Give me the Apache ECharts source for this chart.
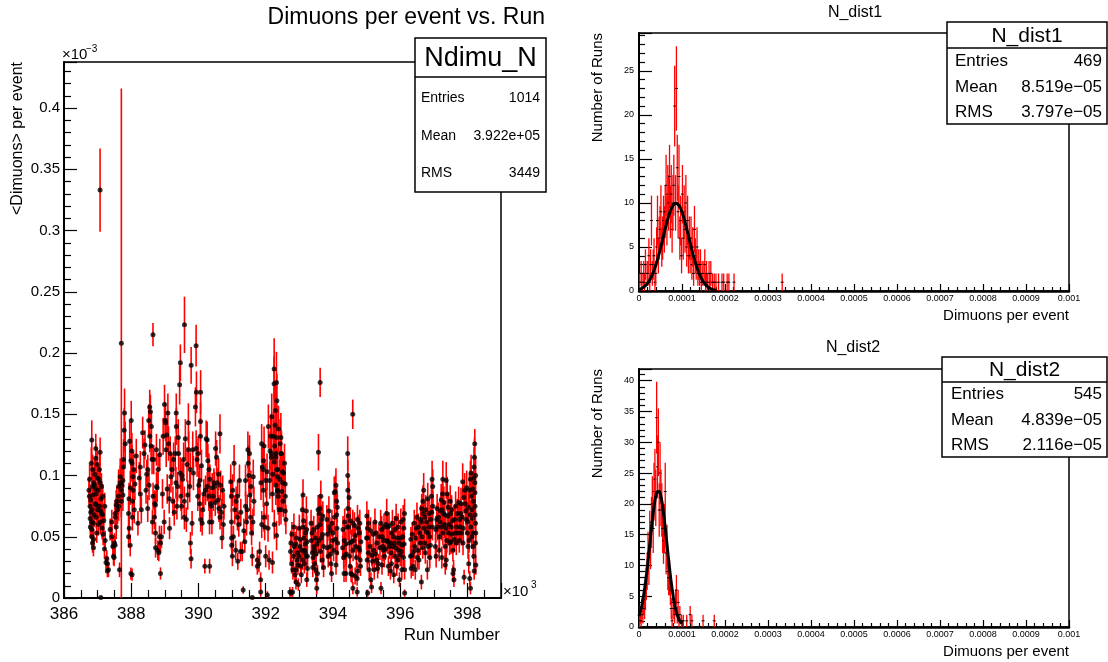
<!DOCTYPE html>
<html>
<head>
<meta charset="utf-8">
<script src="https://cdn.jsdelivr.net/npm/echarts/dist/echarts.min.js"></script>
<style>
  html, body { margin: 0; padding: 0; background: #ffffff; }
  #chart { width: 1108px; height: 662px; }
</style>
</head>
<body>
<div id="chart"></div>
<script>
// Dimuons per event for each run: [run number, rate (x1e-3), error (x1e-3)]
const period1 = [
  [386756,0.083,0.010],[386776,0.075,0.010],[386796,0.070,0.009],[386826,0.129,0.016],[386846,0.091,0.012],
  [386824,0.062,0.010],[386828,0.056,0.009],[386830,0.050,0.008],[386848,0.045,0.008],[386876,0.041,0.007],
  [386878,0.094,0.012],[386945,0.122,0.012],[386947,0.114,0.012],[386955,0.085,0.010],[386957,0.066,0.009],
  [386995,0.098,0.012],[387055,0.105,0.013],[387075,0.119,0.012],[387077,0.094,0.012],[387105,0.081,0.011],
  [387079,0.062,0.010],[387134,0.057,0.009],[387154,0.083,0.010],[387224,0.047,0.008],[387057,0.075,0.010],
  [386925,0.077,0.010],[386874,0.061,0.009],[387095,0.0005,0.001],[387073,0.333,0.034],[386798,0.080,0.010],
  [386856,0.105,0.012],[387005,0.072,0.010],[386905,0.092,0.012],[386778,0.065,0.009],[386975,0.053,0.008],
  [387124,0.069,0.010],[387274,0.032,0.007],[387294,0.028,0.006],[387323,0.023,0.006],[387423,0.062,0.010],
  [387425,0.050,0.009],[387453,0.042,0.008],[387473,0.034,0.007],[387522,0.069,0.011],[387524,0.066,0.010],
  [387552,0.076,0.012],[387572,0.079,0.012],[387592,0.072,0.012],[387622,0.083,0.014],[387624,0.091,0.014],
  [387652,0.023,0.006],[387672,0.099,0.015],[387674,0.094,0.014],[387702,0.088,0.016],[387721,0.092,0.015],
  [387751,0.096,0.016],[387771,0.107,0.017],[387773,0.113,0.017],[387791,0.137,0.018],[387801,0.151,0.020],
  [387821,0.126,0.018],[387753,0.084,0.013],[387704,0.079,0.013],[387626,0.075,0.012],[387706,0.208,0.208],
  [387554,0.058,0.010],[387502,0.045,0.008],[387373,0.056,0.009],[387520,0.043,0.008],[387490,0.033,0.007],
  [387250,0.029,0.006],[387290,0.022,0.005],
  [386742,0.088,0.011],[386762,0.097,0.012],[386784,0.058,0.009],[386812,0.110,0.013],[386836,0.072,0.010],
  [386862,0.084,0.011],[386884,0.048,0.008],[386894,0.068,0.010],[386915,0.101,0.012],[386935,0.089,0.011],
  [386965,0.076,0.010],[386985,0.109,0.013],[387015,0.088,0.011],[387025,0.060,0.009],[387038,0.097,0.012],
  [387088,0.071,0.010],[387114,0.091,0.011],[387144,0.068,0.010],[387164,0.052,0.009],[387184,0.063,0.010],
  [387204,0.040,0.008],[387214,0.075,0.011]
];
const period2 = [
  [387920,0.069,0.012],[387940,0.057,0.010],[387970,0.043,0.009],[387972,0.090,0.014],[387990,0.020,0.005],
  [388000,0.145,0.016],[388020,0.120,0.015],[388022,0.110,0.015],[388040,0.079,0.013],[388050,0.099,0.014],
  [388070,0.105,0.014],[388270,0.107,0.013],[388272,0.085,0.012],[387992,0.112,0.015],[388052,0.088,0.013],
  [388090,0.072,0.011],[387922,0.050,0.009],[388024,0.019,0.005],[388380,0.118,0.012],[388410,0.125,0.012],
  [388490,0.073,0.011],[388520,0.145,0.013],[388550,0.156,0.014],[388570,0.152,0.014],[388552,0.132,0.013],
  [388590,0.124,0.012],[388620,0.113,0.012],[388670,0.113,0.012],[388690,0.066,0.010],[388700,0.077,0.011],
  [388720,0.076,0.011],[388750,0.121,0.013],[388752,0.091,0.012],[388770,0.090,0.012],[388722,0.053,0.009],
  [388724,0.041,0.008],[388790,0.039,0.008],[388820,0.037,0.007],[388840,0.050,0.009],[388850,0.117,0.013],
  [388870,0.020,0.005],[388872,0.045,0.008],[388647,0.215,0.0095],[388440,0.088,0.011],[388492,0.105,0.012],
  [388650,0.083,0.011],[388900,0.050,0.009],[388980,0.062,0.010],[388990,0.158,0.016],[389010,0.145,0.015],
  [389020,0.143,0.015],[389040,0.121,0.014],[389060,0.133,0.014],[389090,0.151,0.016],[389110,0.126,0.014],
  [389130,0.081,0.012],[389140,0.057,0.009],[389180,0.099,0.013],[389210,0.105,0.013],[389240,0.079,0.012],
  [389260,0.113,0.014],[389310,0.118,0.014],[389330,0.094,0.013],[389340,0.151,0.016],[389342,0.140,0.015],
  [389360,0.075,0.011],[389380,0.091,0.012],[389410,0.118,0.014],[389440,0.174,0.016],[389460,0.102,0.013],
  [389480,0.083,0.012],[389500,0.075,0.011],[389510,0.100,0.013],[389560,0.113,0.014],[389580,0.079,0.012],
  [389610,0.130,0.016],[389582,0.066,0.010],[389640,0.064,0.010],[389660,0.109,0.014],[389710,0.121,0.015],
  [389740,0.091,0.013],[389760,0.105,0.014],[389762,0.045,0.009],[389780,0.032,0.008],[389810,0.061,0.010],
  [389830,0.121,0.015],[389462,0.192,0.015],[389584,0.223,0.023],[389782,0.190,0.015],
  [387935,0.081,0.013],[387955,0.128,0.016],[388035,0.066,0.011],[388110,0.093,0.013],[388150,0.116,0.014],
  [388200,0.061,0.010],[388240,0.098,0.013],[388300,0.072,0.011],[388340,0.135,0.013],[388460,0.101,0.012],
  [388530,0.092,0.012],[388600,0.140,0.013],[388630,0.062,0.010],[388800,0.105,0.013],[388930,0.085,0.012],
  [388950,0.132,0.015],[389070,0.089,0.012],[389160,0.118,0.014],[389280,0.070,0.011],[389400,0.131,0.015],
  [389530,0.097,0.013],[389680,0.084,0.012],[389700,0.143,0.016],[389850,0.102,0.014]
];
const period3 = [
  [389930,0.206,0.017],[389910,0.156,0.016],[389932,0.122,0.015],[389940,0.168,0.017],[389960,0.113,0.014],
  [389980,0.083,0.012],[390010,0.092,0.012],[390040,0.096,0.013],[390060,0.132,0.015],[390062,0.144,0.016],
  [390064,0.168,0.018],[390042,0.077,0.011],[390066,0.064,0.010],[390110,0.061,0.010],[390190,0.026,0.006],
  [390210,0.088,0.012],[390230,0.130,0.015],[390260,0.129,0.015],[390262,0.091,0.012],[390310,0.083,0.012],
  [390330,0.062,0.010],[390360,0.077,0.011],[390380,0.075,0.011],[390410,0.090,0.012],[390460,0.094,0.012],
  [390480,0.091,0.012],[390510,0.122,0.014],[390540,0.115,0.014],[390560,0.094,0.012],[390580,0.080,0.011],
  [390610,0.073,0.011],[390640,0.134,0.016],[390660,0.092,0.012],[390700,0.049,0.009],[390720,0.088,0.012],
  [390642,0.066,0.010],[390160,0.085,0.012],[390312,0.105,0.013],[390440,0.083,0.012],[390760,0.075,0.011],
  [390332,0.026,0.006],[390960,0.095,0.014],[390980,0.083,0.013],[390982,0.062,0.011],[390984,0.049,0.010],
  [390990,0.043,0.009],[391010,0.034,0.008],[391060,0.110,0.015],[391080,0.072,0.012],[391110,0.039,0.008],
  [391160,0.066,0.011],[391200,0.060,0.010],[391220,0.096,0.013],[391250,0.038,0.008],[391300,0.038,0.008],
  [391330,0.0065,0.003],[391400,0.096,0.013],[391402,0.075,0.012],[391430,0.062,0.011],[391450,0.072,0.012],
  [391470,0.121,0.015],[391480,0.110,0.015],[391500,0.100,0.014],[391530,0.084,0.013],[391550,0.066,0.011],
  [391580,0.053,0.010],[391600,0.034,0.008],[391630,0.099,0.014],[391650,0.079,0.012],[391602,0.0005,0.001],
  [391040,0.050,0.009],[391350,0.055,0.010],[391162,0.083,0.013],[391170,0.030,0.007],
  [389990,0.118,0.014],[390090,0.108,0.013],[390130,0.072,0.011],[390280,0.112,0.014],[390340,0.097,0.012],
  [390400,0.062,0.010],[390500,0.078,0.011],[390600,0.101,0.013],[390680,0.070,0.011],[390740,0.060,0.010],
  [391020,0.088,0.013],[391120,0.079,0.012],[391260,0.070,0.011],[391380,0.046,0.009],[391520,0.118,0.015],
  [391560,0.091,0.013],[391620,0.062,0.011]
];
const period4 = [
  [391750,0.031,0.008],[391800,0.028,0.007],[391820,0.038,0.008],[391850,0.015,0.006],[391852,0.005,0.004],
  [391880,0.126,0.016],[391900,0.107,0.016],[391920,0.105,0.015],[391930,0.088,0.014],[391950,0.066,0.012],
  [391882,0.060,0.011],[391970,0.058,0.011],[392000,0.034,0.009],[392030,0.077,0.013],[392050,0.0025,0.003],
  [392070,0.057,0.011],[392100,0.031,0.008],[392150,0.132,0.018],[392170,0.115,0.018],[392200,0.085,0.015],
  [392230,0.132,0.020],[392250,0.175,0.022],[392270,0.124,0.020],[392300,0.115,0.020],[392330,0.105,0.018],
  [392350,0.099,0.018],[392370,0.083,0.015],[392400,0.072,0.013],[392430,0.126,0.020],[392450,0.118,0.020],
  [392302,0.092,0.016],[392352,0.088,0.015],[392130,0.120,0.016],[391952,0.124,0.016],[392002,0.096,0.014],
  [392252,0.187,0.025],[392320,0.176,0.025],[392290,0.153,0.020],[392332,0.161,0.022],[392322,0.131,0.020],
  [392452,0.131,0.020],[392172,0.118,0.018],[392304,0.118,0.018],[392470,0.118,0.018],[392254,0.111,0.018],
  [392354,0.105,0.016],[392500,0.103,0.016],[392356,0.087,0.014],[392502,0.094,0.015],[392580,0.093,0.015],
  [392454,0.072,0.012],[392582,0.071,0.012],[392256,0.060,0.012],[392324,0.051,0.012],[392202,0.029,0.009],
  [392584,0.083,0.013],[392530,0.102,0.016],[391752,0.026,0.007],
  [391860,0.094,0.014],[391940,0.112,0.015],[392040,0.103,0.015],[392080,0.140,0.018],[392120,0.096,0.015],
  [392180,0.148,0.019],[392210,0.101,0.016],[392280,0.141,0.020],[392380,0.138,0.019],[392420,0.097,0.016],
  [392480,0.087,0.014],[392520,0.079,0.013],[392560,0.110,0.016],[392600,0.064,0.012]
];
const period5 = [
  [392750,0.045,0.010],[392770,0.028,0.008],[392800,0.005,0.004],[392850,0.042,0.010],[392870,0.019,0.007],
  [392900,0.013,0.006],[392930,0.031,0.008],[392950,0.037,0.009],[392970,0.011,0.005],[392990,0.034,0.009],
  [393020,0.042,0.010],[393040,0.026,0.008],[393090,0.072,0.012],[393110,0.084,0.013],[393112,0.058,0.011],
  [393140,0.049,0.010],[393160,0.039,0.009],[393190,0.053,0.010],[393210,0.071,0.012],[393220,0.056,0.011],
  [393222,0.015,0.006],[393240,0.034,0.009],[393242,0.024,0.008],[393170,0.037,0.009],[393060,0.019,0.007],
  [392830,0.034,0.009],[392902,0.023,0.008],[392720,0.005,0.004],[392760,0.004,0.003],[393360,0.047,0.010],
  [393390,0.037,0.009],[393410,0.033,0.009],[393440,0.042,0.010],[393490,0.023,0.008],[393510,0.015,0.006],
  [393520,0.008,0.005],[393540,0.058,0.011],[393560,0.072,0.012],[393570,0.119,0.015],[393590,0.069,0.012],
  [393620,0.176,0.012],[393622,0.060,0.011],[393640,0.083,0.013],[393660,0.064,0.012],[393690,0.052,0.010],
  [393720,0.042,0.010],[393722,0.025,0.008],[393460,0.028,0.008],[393542,0.020,0.007],[393820,0.064,0.012],
  [393840,0.052,0.010],[393890,0.058,0.011],[393920,0.042,0.010],[393940,0.028,0.008],[393960,0.020,0.007],
  [393990,0.047,0.010],[394040,0.086,0.013],[394070,0.087,0.013],[394090,0.092,0.014],[394110,0.079,0.012],
  [394112,0.068,0.012],[394120,0.057,0.011],[394140,0.045,0.010],[394114,0.037,0.009],[394092,0.027,0.008],
  [394020,0.039,0.009],[394290,0.041,0.010],[394320,0.033,0.009],[394340,0.047,0.010],[394360,0.035,0.009],
  [394440,0.118,0.014],[394442,0.100,0.013],[394444,0.088,0.013],[394446,0.073,0.012],[394460,0.067,0.012],
  [394470,0.058,0.011],[394490,0.045,0.010],[394510,0.026,0.008],[394540,0.020,0.007],[394570,0.019,0.007],
  [394590,0.150,0.012],[394592,0.061,0.011],[394594,0.008,0.005],[394620,0.047,0.010],[394660,0.018,0.007],
  [394690,0.042,0.010],[394720,0.016,0.006],[394740,0.022,0.007],[394760,0.057,0.011],[394790,0.053,0.010],
  [394792,0.039,0.009],[394810,0.031,0.008],[394820,0.026,0.008],[394722,0.005,0.004],[394420,0.058,0.011],
  [394390,0.020,0.007],
  [392740,0.038,0.009],[392780,0.052,0.010],[392810,0.023,0.008],[392840,0.058,0.011],[392880,0.044,0.010],
  [392920,0.049,0.010],[392960,0.027,0.008],[393000,0.057,0.011],[393030,0.048,0.010],[393070,0.039,0.009],
  [393100,0.031,0.008],[393130,0.063,0.011],[393150,0.028,0.008],[393180,0.044,0.010],[393200,0.034,0.009],
  [393230,0.046,0.010],[393350,0.061,0.011],[393380,0.053,0.010],[393400,0.025,0.008],[393430,0.056,0.011],
  [393450,0.039,0.009],[393480,0.049,0.010],[393500,0.036,0.009],[393530,0.044,0.010],[393580,0.047,0.010],
  [393610,0.073,0.012],[393630,0.038,0.009],[393650,0.049,0.010],[393680,0.031,0.008],[393700,0.067,0.012],
  [393830,0.041,0.009],[393860,0.034,0.009],[393880,0.071,0.012],[393910,0.055,0.011],[393930,0.036,0.009],
  [393970,0.061,0.011],[394000,0.053,0.010],[394050,0.066,0.012],[394080,0.048,0.010],[394130,0.074,0.012],
  [394300,0.056,0.011],[394330,0.020,0.007],[394350,0.062,0.011],[394380,0.044,0.010],[394400,0.036,0.009],
  [394480,0.082,0.013],[394500,0.034,0.009],[394520,0.063,0.011],[394550,0.046,0.010],[394600,0.039,0.009],
  [394640,0.059,0.011],[394670,0.051,0.010],[394700,0.033,0.009],[394730,0.064,0.012],[394770,0.041,0.009],
  [394800,0.061,0.011],[394830,0.046,0.010]
];
const period6 = [
  [395010,0.067,0.012],[395030,0.057,0.011],[395032,0.049,0.010],[395034,0.004,0.003],[395050,0.037,0.009],
  [395080,0.023,0.008],[395130,0.015,0.006],[395150,0.009,0.005],[395180,0.030,0.008],[395210,0.039,0.009],
  [395230,0.023,0.008],[395280,0.053,0.010],[395310,0.045,0.010],[395330,0.024,0.008],[395350,0.028,0.008],
  [395430,0.008,0.005],[395450,0.056,0.011],[395470,0.050,0.010],[395480,0.042,0.010],[395500,0.039,0.009],
  [395530,0.034,0.009],[395510,0.047,0.010],[395580,0.060,0.011],[395610,0.047,0.010],[395630,0.058,0.011],
  [395650,0.026,0.008],[395680,0.042,0.010],[395710,0.022,0.007],[395730,0.037,0.009],[395750,0.053,0.010],
  [395780,0.042,0.010],[395810,0.019,0.007],[395850,0.034,0.009],[395880,0.065,0.012],[395910,0.049,0.010],
  [395930,0.031,0.008],[395950,0.039,0.009],[395980,0.015,0.006],[396010,0.049,0.010],[396030,0.038,0.009],
  [396050,0.023,0.008],[396080,0.050,0.010],[396110,0.057,0.011],[396130,0.069,0.012],[396132,0.023,0.008],
  [396134,0.004,0.003],[396100,0.033,0.009],[395830,0.045,0.010],
  [395000,0.049,0.010],[395020,0.031,0.008],[395060,0.061,0.011],[395100,0.042,0.010],[395120,0.055,0.011],
  [395160,0.035,0.009],[395200,0.052,0.010],[395250,0.062,0.011],[395260,0.036,0.009],[395300,0.031,0.008],
  [395370,0.050,0.010],[395400,0.041,0.010],[395420,0.061,0.011],[395460,0.027,0.008],[395520,0.058,0.011],
  [395560,0.040,0.009],[395600,0.069,0.012],[395640,0.046,0.010],[395670,0.059,0.011],[395700,0.045,0.010],
  [395740,0.028,0.008],[395770,0.061,0.011],[395800,0.050,0.010],[395840,0.056,0.011],[395870,0.041,0.009],
  [395900,0.026,0.008],[395940,0.058,0.011],[395970,0.045,0.010],[396000,0.035,0.009],[396020,0.062,0.011],
  [396060,0.043,0.010],[396090,0.064,0.012],[396120,0.044,0.010]
];
const period7 = [
  [396310,0.034,0.009],[396330,0.024,0.008],[396350,0.035,0.009],[396380,0.026,0.008],[396430,0.042,0.010],
  [396450,0.023,0.008],[396480,0.057,0.011],[396510,0.033,0.009],[396530,0.039,0.009],[396580,0.053,0.010],
  [396610,0.064,0.012],[396630,0.062,0.012],[396632,0.013,0.006],[396650,0.050,0.010],[396680,0.079,0.013],
  [396682,0.069,0.012],[396710,0.057,0.011],[396730,0.045,0.010],[396750,0.037,0.009],[396780,0.054,0.011],
  [396810,0.023,0.008],[396830,0.053,0.010],[396832,0.042,0.010],[396850,0.058,0.011],[396880,0.050,0.010],
  [396910,0.064,0.012],[396930,0.083,0.013],[396950,0.097,0.015],[396970,0.091,0.014],[396972,0.075,0.012],
  [396882,0.033,0.009],[397050,0.042,0.010],[397070,0.034,0.009],[397090,0.064,0.012],[397120,0.058,0.011],
  [397170,0.050,0.010],[397220,0.080,0.013],[397250,0.072,0.012],[397270,0.097,0.015],[397272,0.053,0.010],
  [397290,0.069,0.012],[397320,0.060,0.011],[397340,0.042,0.010],[397370,0.096,0.015],[397372,0.031,0.008],
  [397390,0.047,0.010],[397420,0.067,0.012],[397440,0.053,0.010],[397470,0.045,0.010],[397500,0.069,0.012],
  [397520,0.058,0.011],[397540,0.052,0.010],[397570,0.039,0.009],[397590,0.023,0.008],[397600,0.015,0.006],
  [397620,0.064,0.012],[397640,0.053,0.010],[397670,0.045,0.010],[397700,0.069,0.012],[397240,0.033,0.009],
  [397342,0.027,0.008],[397572,0.020,0.007],[397770,0.064,0.012],[397800,0.069,0.012],[397820,0.053,0.010],
  [397870,0.045,0.010],[397900,0.082,0.013],[397920,0.088,0.014],[397940,0.077,0.013],[397970,0.064,0.012],
  [398000,0.053,0.010],[398020,0.042,0.010],[398040,0.028,0.008],[398070,0.016,0.006],[398090,0.097,0.015],
  [398092,0.008,0.005],[398100,0.058,0.011],[398120,0.083,0.013],[398140,0.072,0.012],[398150,0.065,0.012],
  [398170,0.053,0.010],[398190,0.098,0.015],[398192,0.034,0.009],[398200,0.107,0.016],[398202,0.022,0.007],
  [398220,0.126,0.012],[398222,0.094,0.015],[398224,0.086,0.014],[398226,0.075,0.013],[398240,0.061,0.012],
  [398242,0.045,0.010],[398250,0.027,0.008],[398172,0.042,0.010],[397902,0.017,0.006],
  [396320,0.048,0.010],[396360,0.052,0.010],[396400,0.038,0.009],[396420,0.061,0.011],[396460,0.049,0.010],
  [396500,0.066,0.012],[396540,0.058,0.011],[396560,0.031,0.008],[396600,0.045,0.010],[396640,0.073,0.012],
  [396670,0.041,0.009],[396700,0.088,0.014],[396740,0.066,0.012],[396760,0.072,0.012],[396790,0.062,0.011],
  [396820,0.081,0.013],[396860,0.069,0.012],[396900,0.043,0.010],[396940,0.070,0.012],[396960,0.058,0.011],
  [397060,0.056,0.011],[397100,0.073,0.012],[397140,0.066,0.012],[397160,0.039,0.009],[397190,0.062,0.011],
  [397200,0.071,0.012],[397230,0.058,0.011],[397260,0.085,0.013],[397300,0.078,0.013],[397330,0.068,0.012],
  [397360,0.057,0.011],[397400,0.085,0.014],[397430,0.074,0.012],[397460,0.060,0.011],[397490,0.079,0.013],
  [397510,0.046,0.010],[397530,0.072,0.012],[397560,0.063,0.011],[397610,0.048,0.010],[397650,0.075,0.012],
  [397680,0.058,0.011],[397720,0.053,0.010],[397740,0.078,0.013],[397760,0.047,0.010],[397790,0.058,0.011],
  [397810,0.077,0.013],[397840,0.066,0.012],[397860,0.095,0.015],[397880,0.057,0.011],[397960,0.071,0.012],
  [397980,0.090,0.014],[398010,0.062,0.011],[398030,0.074,0.012],[398050,0.047,0.010],[398060,0.088,0.014],
  [398080,0.068,0.012],[398110,0.102,0.015],[398130,0.050,0.010],[398160,0.089,0.014],[398180,0.079,0.013],
  [398210,0.115,0.016],[398230,0.068,0.012],[398244,0.100,0.015],[398248,0.053,0.010]
];

// Run counts per bin of dimuons per event (bin width 2e-6, starting at 0)
const BIN_WIDTH = 2e-6;
const dist1Counts = [
  1,0,2,1,0,2,1,3,0,2,  2,4,1,3,8,2,3,4,1,2,  5,8,4,6,7,9,5,6,8,7,
  9,12,8,11,10,13,9,11,7,10,  12,21,10,23,14,9,13,6,8,4,  11,6,9,7,10,5,8,4,6,4,
  6,3,5,2,7,4,3,5,2,3,  2,3,1,2,0,2,3,1,2,1,0,2,1,2,0,
  1,0,1,0,1,0,0,1,0,0,0,1,0,1,0,0,0,1,0,1,0,0,0,0,0,1,0,0,0,0,0
];
const dist1Isolated = [[166, 1]];   // [bin index, count]
const dist2Counts = [
  1,2,1,3,2,4,3,5,7,9,  12,10,15,13,17,20,16,22,24,21,  34,26,30,19,25,21,19,16,14,16,
  22,12,13,9,8,8,6,3,1,4,  3,2,4,6,2,4,1,2,0,1,  0,1,0,0,0,1,0,0,0,2,
  0,1,0,0,0,0,0,0,0,0,  0,0,0,0,1,0,0,0,0,0,  0,0,0,0,0,0,0,1
];
const dist2Isolated = [];

// Gaussian fits: [constant, mean, sigma, range low, range high]
const fit1 = [10.0, 8.6e-5, 3.0e-5, 0, 1.8e-4];
const fit2 = [22.2, 4.5e-5, 2.0e-5, 0, 1.0e-4];

// Statistics box texts
const statsRun = { name: 'Ndimu_N', rows: [['Entries', '1014'], ['Mean', '3.922e+05'], ['RMS', '3449']] };
const stats1 = { name: 'N_dist1', rows: [['Entries', '469'], ['Mean', '8.519e\u221205'], ['RMS', '3.797e\u221205']] };
const stats2 = { name: 'N_dist2', rows: [['Entries', '545'], ['Mean', '4.839e\u221205'], ['RMS', '2.116e\u221205']] };

const FONT = '"Liberation Sans", Arial, Helvetica, sans-serif';

const runRows = [].concat(period1, period2, period3, period4, period5, period6, period7);
const pointData = runRows.map(r => [r[0] / 1000, r[1], r[2]]);

function histData(counts, isolated) {
  const out = [];
  counts.forEach((c, i) => { if (c > 0) out.push([(i + 0.5) * BIN_WIDTH, c]); });
  isolated.forEach(([i, c]) => out.push([(i + 0.5) * BIN_WIDTH, c]));
  return out;
}

function fitCurve(p) {
  const [a, mu, sigma, lo, hi] = p;
  const n = 200, pts = [];
  for (let k = 0; k <= n; k++) {
    const x = lo + (hi - lo) * k / n;
    pts.push([x, a * Math.exp(-0.5 * Math.pow((x - mu) / sigma, 2))]);
  }
  return pts;
}

function histSeries(counts, isolated, idx) {
  return {
    type: 'custom', xAxisIndex: idx, yAxisIndex: idx, clip: true, silent: true,
    data: histData(counts, isolated), encode: { x: 0, y: 1 },
    renderItem(params, api) {
      const x = api.value(0), c = api.value(1), e = Math.sqrt(c);
      const top = api.coord([x, c + e]), bot = api.coord([x, Math.max(c - e, 0)]), mid = api.coord([x, c]);
      return { type: 'group', children: [
        { type: 'line', shape: { x1: top[0], y1: top[1], x2: bot[0], y2: bot[1] },
          style: { stroke: '#ff0000', lineWidth: 1.3 } },
        { type: 'line', shape: { x1: mid[0] - 1.5, y1: mid[1], x2: mid[0] + 1.5, y2: mid[1] },
          style: { stroke: '#000000', lineWidth: 1 } }
      ] };
    }
  };
}

function text(x, y, str, size, align, extra) {
  return Object.assign({
    type: 'text', x: x, y: y, z: 100,
    style: { text: str, fontSize: size, fontFamily: FONT, fill: '#000',
             textAlign: align || 'left', textVerticalAlign: 'middle' }
  }, extra || {});
}

function statsBox(s, x, y, w, h, headerH, headerSize, rowYs, rowSize, padL, padR) {
  const els = [
    { type: 'rect', z: 99, shape: { x: x, y: y, width: w, height: h },
      style: { fill: '#ffffff', stroke: '#000000', lineWidth: 1.5 } },
    { type: 'line', z: 100, shape: { x1: x, y1: y + headerH, x2: x + w, y2: y + headerH },
      style: { stroke: '#000000', lineWidth: 1.5 } },
    text(x + w / 2, y + headerH / 2 + 1, s.name, headerSize, 'center')
  ];
  s.rows.forEach((r, i) => {
    els.push(text(x + padL, rowYs[i], r[0], rowSize, 'left'));
    els.push(text(x + w - padR, rowYs[i], r[1], rowSize, 'right'));
  });
  return els;
}

const blackLine = { color: '#000', width: 2 };
const tickStyle = { color: '#000', width: 1.2 };

function rightXAxis(idx) {
  return {
    gridIndex: idx, type: 'value', min: 0, max: 0.001, interval: 0.0001,
    axisLine: { lineStyle: { color: '#000', width: 2.5 } },
    axisTick: { inside: true, length: 7, lineStyle: tickStyle },
    minorTick: { show: true, splitNumber: 5, length: 4, lineStyle: tickStyle },
    axisLabel: { color: '#000', fontSize: 9, fontFamily: FONT, margin: 3,
                 formatter: v => v === 0 ? '0' : String(Number(v.toFixed(4))) },
    splitLine: { show: false }, minorSplitLine: { show: false }
  };
}
function rightYAxis(idx, max) {
  return {
    gridIndex: idx, type: 'value', min: 0, max: max, interval: 5,
    axisLine: { lineStyle: blackLine },
    axisTick: { inside: true, length: 13, lineStyle: tickStyle },
    minorTick: { show: true, splitNumber: 5, length: 6, lineStyle: tickStyle },
    axisLabel: { color: '#000', fontSize: 9, fontFamily: FONT, margin: 5, showMaxLabel: false },
    splitLine: { show: false }
  };
}

const gridBase = { show: true, borderColor: '#000', borderWidth: 1.5, backgroundColor: 'transparent',
                   containLabel: false, outerBoundsMode: 'none' };

const option = {
  animation: false,
  backgroundColor: '#ffffff',
  grid: [
    Object.assign({ left: 64, top: 62, width: 437, height: 536 }, gridBase),
    Object.assign({ left: 639, top: 33, width: 430, height: 258 }, gridBase),
    Object.assign({ left: 639, top: 369, width: 430, height: 258 }, gridBase)
  ],
  xAxis: [
    {
      gridIndex: 0, type: 'value', min: 386, max: 399, interval: 2,
      axisLine: { lineStyle: blackLine },
      axisTick: { inside: true, length: 15, lineStyle: tickStyle },
      minorTick: { show: true, splitNumber: 4, length: 8, lineStyle: tickStyle },
      axisLabel: { color: '#000', fontSize: 17, fontFamily: FONT, margin: 8, showMaxLabel: false },
      splitLine: { show: false }
    },
    rightXAxis(1),
    rightXAxis(2)
  ],
  yAxis: [
    {
      gridIndex: 0, type: 'value', min: 0, max: 0.4376, interval: 0.05,
      axisLine: { lineStyle: blackLine },
      axisTick: { inside: true, length: 13, lineStyle: tickStyle },
      minorTick: { show: true, splitNumber: 5, length: 7, lineStyle: tickStyle },
      axisLabel: { color: '#000', fontSize: 15, fontFamily: FONT, margin: 4, showMaxLabel: false,
                   formatter: v => v === 0 ? '0' : String(Number(v.toFixed(3))) },
      splitLine: { show: false }
    },
    rightYAxis(1, 29.3),
    rightYAxis(2, 41.9)
  ],
  series: [
    {
      type: 'custom', xAxisIndex: 0, yAxisIndex: 0, clip: true, silent: true,
      data: pointData, encode: { x: 0, y: 1 },
      renderItem(params, api) {
        const x = api.value(0), y = api.value(1), e = api.value(2);
        const a = api.coord([x, y + e]), b = api.coord([x, Math.max(y - e, 0)]);
        return { type: 'line', shape: { x1: a[0], y1: a[1], x2: b[0], y2: b[1] },
                 style: { stroke: '#ff0000', lineWidth: 1.6 } };
      }
    },
    {
      type: 'scatter', xAxisIndex: 0, yAxisIndex: 0, silent: true,
      data: pointData.map(p => [p[0], p[1]]),
      symbol: 'circle', symbolSize: 5, itemStyle: { color: '#000000' }
    },
    histSeries(dist1Counts, dist1Isolated, 1),
    histSeries(dist2Counts, dist2Isolated, 2),
    {
      type: 'line', xAxisIndex: 1, yAxisIndex: 1, data: fitCurve(fit1), showSymbol: false, silent: true,
      lineStyle: { color: '#000', width: 3 }, z: 5
    },
    {
      type: 'line', xAxisIndex: 2, yAxisIndex: 2, data: fitCurve(fit2), showSymbol: false, silent: true,
      lineStyle: { color: '#000', width: 3 }, z: 5
    }
  ],
  graphic: [].concat(
    [
      // left panel texts
      text(545, 18, 'Dimuons per event vs. Run', 23, 'right'),
      text(18, 62, '<Dimuons> per event', 16, 'right', { rotation: Math.PI / 2 }),
      text(500, 635, 'Run Number', 17, 'right'),
      text(62, 55, '\u00d710', 15, 'left'),
      text(86, 49, '\u22123', 10, 'left'),
      text(503, 592, '\u00d710', 15, 'left'),
      text(531, 585, '3', 10, 'left'),
      // upper right panel texts
      text(855, 13, 'N_dist1', 16, 'center'),
      text(598, 33, 'Number of Runs', 15, 'right', { rotation: Math.PI / 2 }),
      text(1069, 316, 'Dimuons per event', 15, 'right'),
      // lower right panel texts
      text(853, 348, 'N_dist2', 16, 'center'),
      text(598, 369, 'Number of Runs', 15, 'right', { rotation: Math.PI / 2 }),
      text(1069, 652, 'Dimuons per event', 15, 'right')
    ],
    statsBox(statsRun, 415, 38, 131, 154, 39, 27, [98, 136, 173], 14, 6, 6),
    statsBox(stats1, 947, 22, 160, 102, 26, 21, [61, 87, 112], 17, 8, 5),
    statsBox(stats2, 942, 357, 165, 100, 25, 21, [394, 420, 445], 17, 9, 5)
  )
};

const chart = echarts.init(document.getElementById('chart'), null, { renderer: 'canvas' });
chart.setOption(option);
</script>
</body>
</html>
